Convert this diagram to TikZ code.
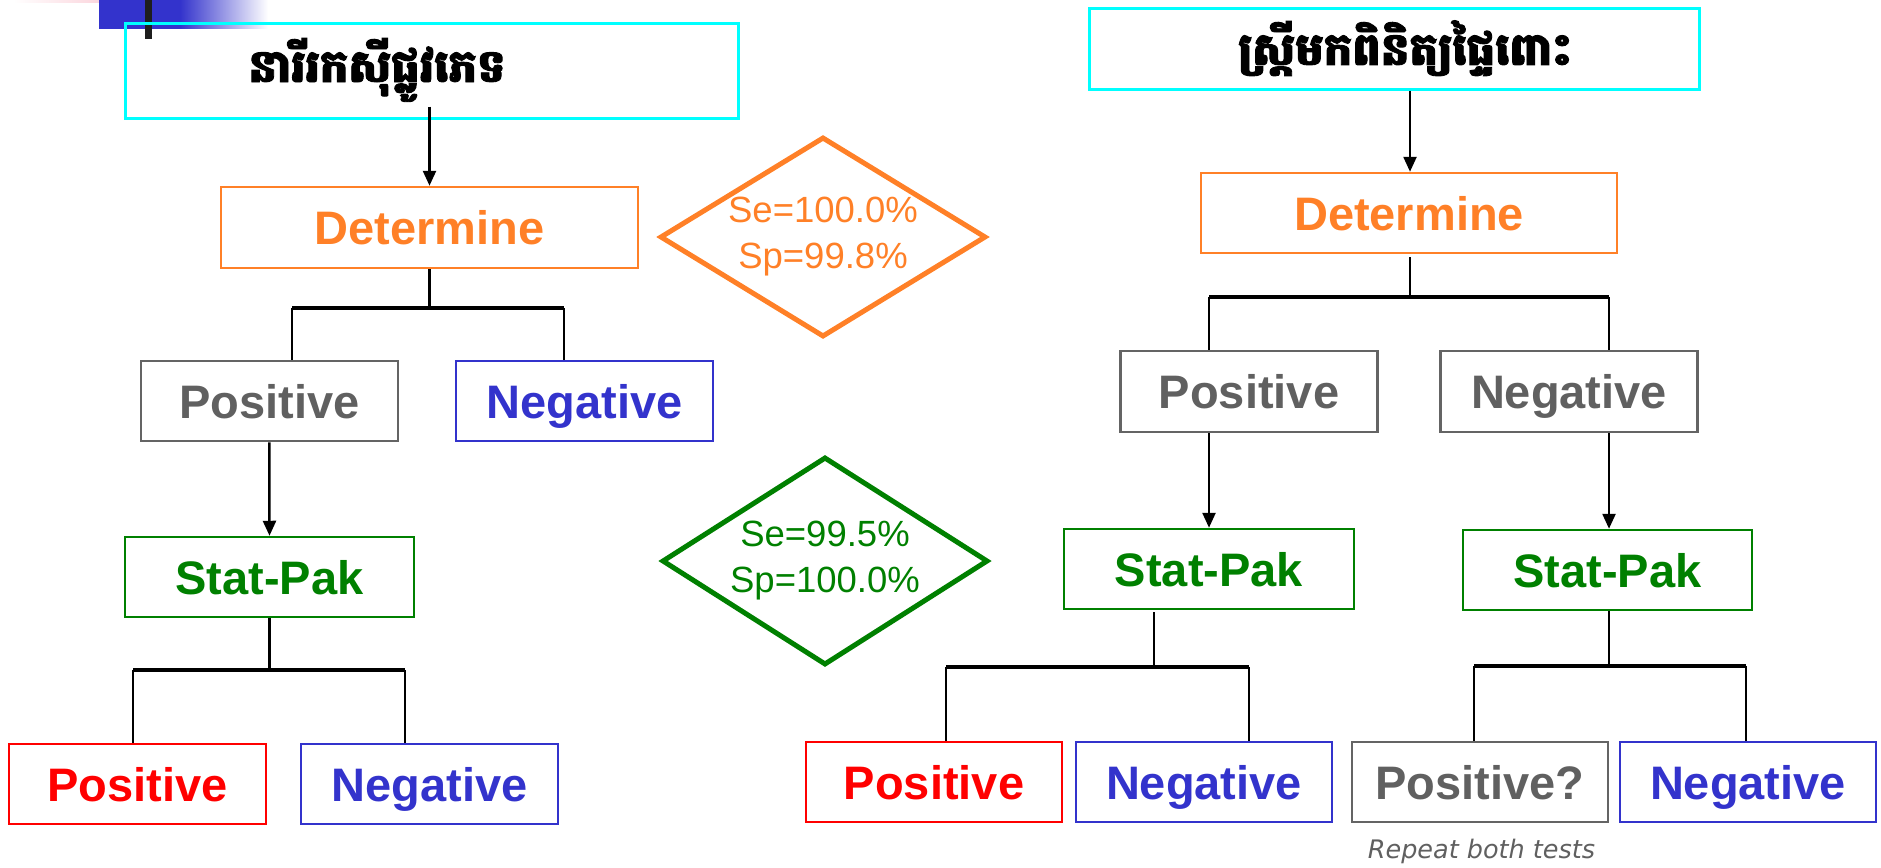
\documentclass[tikz,border=0pt]{standalone}
\usepackage{fontspec}
\setmainfont{Liberation Sans}
\newfontfamily\khmerfont[Script=Khmer, FakeBold=2]{Battambang}
\newfontfamily\repfont{DejaVu Sans}
\usetikzlibrary{arrows.meta,shapes.geometric}
\definecolor{cyanc}{RGB}{0,255,255}
\definecolor{orangec}{RGB}{255,128,39}
\definecolor{grayc}{RGB}{100,100,100}
\definecolor{graytext}{RGB}{96,96,96}
\definecolor{bluec}{RGB}{51,51,204}
\definecolor{greenc}{RGB}{0,128,0}
\definecolor{redc}{RGB}{255,0,0}
\definecolor{pinkc}{RGB}{250,200,210}
\definecolor{barc}{RGB}{30,30,30}
\tikzset{
  box/.style={draw, rectangle, line width=2.5pt, inner sep=0pt, minimum height=80pt,
    text height=34pt, text depth=0pt, font=\fontsize{47pt}{56pt}\selectfont\bfseries},
  obox/.style={box, draw=orangec, text=orangec},
  gbox/.style={box, draw=grayc, text=graytext},
  bbox/.style={box, draw=bluec, text=bluec},
  grbox/.style={box, draw=greenc, text=greenc},
  rbox/.style={box, draw=redc, text=redc},
  cbox/.style={draw=cyanc, line width=3pt, rectangle, inner sep=0pt},
  khtext/.style={font=\khmerfont\bfseries\fontsize{45pt}{54pt}\selectfont, inner sep=0pt},
  dia/.style={draw, diamond, line width=5pt, inner sep=0pt, aspect=1.63, align=center,
    font=\fontsize{36.5pt}{46pt}\selectfont},
  conn/.style={line width=2.5pt, black},
  hconn/.style={line width=3.5pt, black},
  arr/.style={conn, -{Triangle[length=15pt,width=13pt]}}
}
\begin{document}
\begin{tikzpicture}[x=1pt,y=-1pt]
\useasboundingbox (0,0) rectangle (1881,867);
% decoration top-left
\shade[left color=white, right color=pinkc] (13,0) rectangle (130,2.5);
\fill[bluec] (99,0) rectangle (181,29);
\shade[left color=bluec, right color=white] (180,0) rectangle (268,29);
\fill[barc] (145,0) rectangle (152,39);

% ---------- left tree ----------
\node[cbox, minimum width=613pt, minimum height=94pt] (k1) at (431.5,71) {};
\node[khtext, anchor=base] (k1t) at (377,82) {នារីរកស៊ីផ្លូវភេទ};
\node[obox, minimum width=417pt, minimum height=81pt] (det1) at (429.5,227.5) {Determine};
\node[gbox, minimum width=257pt] (pos1) at (269.3,401) {Positive};
\node[bbox, minimum width=257pt] (neg1) at (584.5,401) {Negative};
\node[grbox, minimum width=289pt] (sp1) at (269.5,577) {Stat-Pak};
\node[rbox, minimum width=257pt] (pos1b) at (137.5,784) {Positive};
\node[bbox, minimum width=257pt] (neg1b) at (429.5,784) {Negative};

\coordinate (f1) at (429.5,308);
\coordinate (f1L) at (292,308);
\coordinate (f1R) at (564,308);
\coordinate (f2) at (269.5,670);
\coordinate (f2L) at (133,670);
\coordinate (f2R) at (405,670);

\draw[arr] ([yshift=13pt]det1.north |- k1.south) -- (det1.north);
\draw[conn] (det1.south) -- (f1);
\draw[hconn] (f1L) -- (f1R);
\draw[conn] (f1L) -- (f1L |- pos1.north);
\draw[conn] (f1R) -- (f1R |- neg1.north);
\draw[arr] (pos1.south) -- (sp1.north);
\draw[conn] (sp1.south) -- (f2);
\draw[hconn] (f2L) -- (f2R);
\draw[conn] (f2L) -- (f2L |- pos1b.north);
\draw[conn] (f2R) -- (f2R |- neg1b.north);

% ---------- diamonds ----------
\node[dia, draw=orangec, text=orangec, minimum width=326pt, minimum height=200pt] (d1) at (823,237) {Se=100.0\%\\Sp=99.8\%};
\node[dia, draw=greenc, text=greenc, minimum width=326pt, minimum height=208pt] (d2) at (825,561) {Se=99.5\%\\Sp=100.0\%};

% ---------- right tree ----------
\node[cbox, minimum width=610pt, minimum height=80pt] (k2) at (1394,49) {};
\node[khtext, anchor=base] (k2t) at (1405,65) {ស្ត្រីមកពិនិត្យផ្ទៃពោះ};
\node[obox, minimum width=416pt] (det2) at (1409,213) {Determine};
\node[gbox, minimum width=257pt, minimum height=81pt] (pos2) at (1249,391.5) {Positive};
\node[gbox, minimum width=257pt, minimum height=81pt] (neg2) at (1569,391.5) {Negative};
\node[grbox, minimum width=290pt] (sp2a) at (1209,569) {Stat-Pak};
\node[grbox, minimum width=289pt] (sp2b) at (1607.5,570) {Stat-Pak};
\node[rbox, minimum width=256pt] (pos2b) at (934,782) {Positive};
\node[bbox, minimum width=256pt] (neg2b) at (1204,782) {Negative};
\node[gbox, minimum width=256pt] (posq) at (1480,782) {Positive?};
\node[bbox, minimum width=256pt] (neg2c) at (1748,782) {Negative};
\node[font=\repfont\itshape\fontsize{25.5pt}{30pt}\selectfont, text=graytext, anchor=base, inner sep=0pt] (rep) at (1481.5,858) {Repeat both tests};

\coordinate (f3) at (1410,297);
\coordinate (f3L) at (1209,297);
\coordinate (f3R) at (1609,297);
\coordinate (f4) at (1154,667);
\coordinate (f4L) at (946,667);
\coordinate (f4R) at (1249,667);
\coordinate (f5) at (1609,666);
\coordinate (f5L) at (1474,666);
\coordinate (f5R) at (1746,666);
\coordinate (s4) at (1154,612);
\coordinate (s3) at (1410,257);

\draw[arr] (f3 |- k2.south) -- (f3 |- det2.north);
\draw[conn] (s3) -- (f3);
\draw[hconn] (f3L) -- (f3R);
\draw[conn] (f3L) -- (f3L |- pos2.north);
\draw[conn] (f3R) -- (f3R |- neg2.north);
\draw[arr] (sp2a.north |- pos2.south) -- (sp2a.north);
\draw[arr] (f3R |- neg2.south) -- (f3R |- sp2b.north);
\draw[conn] (s4) -- (f4);
\draw[hconn] (f4L) -- (f4R);
\draw[conn] (f4L) -- (f4L |- pos2b.north);
\draw[conn] (f4R) -- (f4R |- neg2b.north);
\draw[conn] (f5 |- sp2b.south) -- (f5);
\draw[hconn] (f5L) -- (f5R);
\draw[conn] (f5L) -- (f5L |- posq.north);
\draw[conn] (f5R) -- (f5R |- neg2c.north);
\end{tikzpicture}
\end{document}
